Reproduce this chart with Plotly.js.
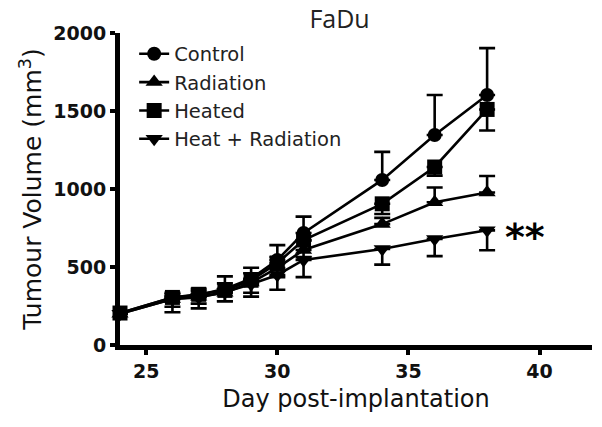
<!DOCTYPE html>
<html>
<head>
<meta charset="utf-8">
<script src="https://cdn.plot.ly/plotly-3.0.1.min.js"></script>
<style>
  html, body { margin: 0; padding: 0; background: #fff; }
  #chart { width: 602px; height: 427px; }
</style>
</head>
<body>
<div id="chart"></div>
<script>
// days measured
const days = [24, 26, 27, 28, 29, 30, 31, 34, 36, 38];

// mean tumour volume (mm3) per group
const control   = [205, 305, 320, 360, 425, 545, 718, 1058, 1346, 1603];
const radiation = [200, 295, 310, 335, 400, 494, 609, 775, 915, 978];
const heated    = [205, 305, 325, 350, 415, 525, 673, 905, 1141, 1510];
const heatRad   = [200, 295, 305, 340, 390, 449, 545, 615, 680, 735];

// SEM shown one-sided (up for control/radiation, down for heated/heat+rad)
const controlErr   = [0, 30, 40, 80, 70, 95, 105, 180, 257, 300];
const radiationErr = [0, 30, 35, 60, 60, 70, 60, 40, 95, 105];
const heatedErr    = [0, 60, 60, 70, 80, 90, 110, 65, 55, 135];
const heatRadErr   = [0, 85, 70, 60, 80, 95, 110, 100, 110, 128];

const zeros = days.map(() => 0);

function series(name, y, symbol, up, down) {
    return {
        x: days, y: y, name: name,
        type: 'scatter', mode: 'lines+markers',
        line: {color: '#000', width: 2.6},
        marker: {symbol: symbol, size: symbol === 'circle' ? 14 : 15, color: '#000'},
        error_y: {type: 'data', symmetric: false, array: up, arrayminus: down,
                  color: '#000', thickness: 2.6, width: 8},
        cliponaxis: false
    };
}

const data = [
    series('Control', control, 'circle', controlErr, zeros),
    series('Radiation', radiation, 'triangle-up', radiationErr, zeros),
    series('Heated', heated, 'square', zeros, heatedErr),
    series('Heat + Radiation', heatRad, 'triangle-down', zeros, heatRadErr)
];

const layout = {
    width: 602, height: 427,
    margin: {l: 120, r: 10, t: 33, b: 82},
    paper_bgcolor: '#fff', plot_bgcolor: '#fff',
    font: {family: 'DejaVu Sans, Arial, sans-serif', color: '#111'},
    title: {text: 'FaDu', font: {family: 'Open Sans, sans-serif', size: 25, color: '#222'},
            x: 0.564, xanchor: 'center', y: 0.955, yanchor: 'middle'},
    showlegend: true,
    legend: {x: 0.03, y: 0.995, xanchor: 'left', yanchor: 'top',
             font: {size: 19.5, color: '#222'}, bgcolor: 'rgba(0,0,0,0)',
             tracegroupgap: 0, itemwidth: 30},
    xaxis: {
        range: [24, 42], tickvals: [25, 30, 35, 40],
        showline: true, linecolor: '#000', linewidth: 5,
        ticks: 'outside', ticklen: 5, tickwidth: 4, tickcolor: '#000',
        showgrid: false, zeroline: false,
        tickfont: {size: 19, color: '#111', weight: 'bold'},
        title: {text: 'Day post-implantation', font: {size: 24, color: '#111'}, standoff: 11}
    },
    yaxis: {
        range: [0, 2000], tickvals: [0, 500, 1000, 1500, 2000],
        showline: true, linecolor: '#000', linewidth: 5,
        ticks: 'outside', ticklen: 5, tickwidth: 4, tickcolor: '#000',
        showgrid: false, zeroline: false,
        tickfont: {size: 19, color: '#111', weight: 'bold'},
        title: {text: 'Tumour Volume (mm<sup>3</sup>)', font: {size: 25, color: '#111'}, standoff: 6}
    },
    annotations: [{
        x: 39.46, y: 744, xref: 'x', yref: 'y', text: '**', showarrow: false,
        font: {size: 38, color: '#000', weight: 'bold'}, yshift: -8
    }]
};

Plotly.newPlot('chart', data, layout, {displayModeBar: false, staticPlot: true});
</script>
</body>
</html>
